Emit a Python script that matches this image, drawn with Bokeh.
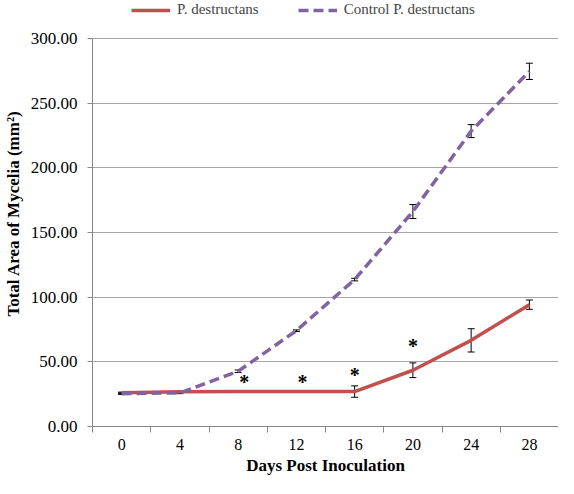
from bokeh.plotting import figure
from bokeh.models import (ColumnDataSource, Whisker, FixedTicker, NumeralTickFormatter,
                          Legend, LegendItem, Range1d, TeeHead)
from bokeh.core.properties import value
from bokeh.embed import file_html
from bokeh.resources import INLINE

days = [0, 4, 8, 12, 16, 20, 24, 28]
pd_area = [26.0, 26.8, 27.0, 27.0, 27.0, 43.5, 66.6, 94.2]
pd_err = [0.6, 0.5, 0.5, 0.5, 4.4, 5.7, 9.0, 3.6]
ctrl_area = [25.4, 26.0, 42.7, 74.1, 113.6, 166.2, 228.4, 274.6]
ctrl_err = [0.6, 0.6, 1.0, 0.6, 1.0, 5.4, 5.0, 6.3]
star_days = [8, 12, 16, 20]
star_y = [34.7, 34.7, 39.7, 62.3]
y_ticks = [0, 50, 100, 150, 200, 250, 300]
series_names = ["P. destructans", "Control P. destructans"]

FONT = "'Liberation Serif', 'Times New Roman', serif"
RED = "#C0504D"
PURPLE = "#8064A2"
AXIS = "#868686"

H = 478
BOTTOM = 52
FRAME_H = H - BOTTOM
AXIS_TOP_PX = 38          # pixel row where the top tick (300) sits
y_top = y_ticks[-1] * FRAME_H / (FRAME_H - AXIS_TOP_PX)

p = figure(width=558, height=H, output_backend="svg", toolbar_location=None,
           x_range=Range1d(-2, 30), y_range=Range1d(0, y_top))
p.min_border_left = 89
p.min_border_right = 0
p.min_border_top = 0
p.min_border_bottom = BOTTOM
p.outline_line_color = None
p.background_fill_color = "white"

# axes
bounds = [d - 2 for d in days] + [days[-1] + 2]
p.xaxis.ticker = FixedTicker(ticks=days, minor_ticks=bounds)
p.xaxis.major_tick_out = 0
p.xaxis.major_tick_in = 0
p.xaxis.minor_tick_out = 6
p.xaxis.minor_tick_in = 0
p.xaxis.minor_tick_line_color = AXIS
p.xaxis.axis_line_color = AXIS
p.xaxis.major_label_standoff = 6
p.xaxis.axis_label = "Days Post Inoculation"
p.xaxis.axis_label_standoff = 3

p.yaxis.ticker = FixedTicker(ticks=y_ticks, minor_ticks=[])
p.yaxis.bounds = (y_ticks[0], y_ticks[-1])
p.yaxis.formatter = NumeralTickFormatter(format="0.00")
p.yaxis.major_tick_out = 5
p.yaxis.major_tick_in = 0
p.yaxis.major_tick_line_color = AXIS
p.yaxis.axis_line_color = AXIS
p.yaxis.major_label_standoff = 10
p.yaxis.axis_label = "Total Area of Mycelia (mm\u00b2)"
p.yaxis.axis_label_standoff = 5

for ax, tick_size in ((p.xaxis, "16px"), (p.yaxis, "17px")):
    ax.major_label_text_font = FONT
    ax.major_label_text_font_size = tick_size
    ax.major_label_text_color = "black"
    ax.axis_label_text_font = FONT
    ax.axis_label_text_font_size = "17px"
    ax.axis_label_text_font_style = "bold"
    ax.axis_label_text_color = "black"
    ax.axis_line_width = 1

p.xgrid.visible = False
p.ygrid.ticker = FixedTicker(ticks=y_ticks)
p.ygrid.grid_line_color = "#A6A6A6"
p.ygrid.grid_line_width = 1

# lines
r_pd = p.line(days, pd_area, line_color=RED, line_width=3.5)
r_ctrl = p.line(days, ctrl_area, line_color=PURPLE, line_width=3.5, line_dash="10 5")

# error bars
for area, err in ((pd_area, pd_err), (ctrl_area, ctrl_err)):
    src = ColumnDataSource(dict(x=days,
                                upper=[a + e for a, e in zip(area, err)],
                                lower=[a - e for a, e in zip(area, err)]))
    w = Whisker(source=src, base="x", upper="upper", lower="lower",
                line_color="black", line_width=1,
                upper_head=TeeHead(size=7, line_color="black", line_width=1),
                lower_head=TeeHead(size=7, line_color="black", line_width=1))
    p.add_layout(w)

# significance stars
star_src = ColumnDataSource(dict(x=star_days, y=star_y, t=["*"] * len(star_days),
                                 xo=[6, 6, 0, 0]))
p.text(x="x", y="y", text="t", x_offset="xo", source=star_src,
       text_align="center", text_baseline="middle",
       text_font=value(FONT), text_font_size="20px", text_font_style="bold",
       text_color="black")

legend = Legend(items=[LegendItem(label=series_names[0], renderers=[r_pd]),
                       LegendItem(label=series_names[1], renderers=[r_ctrl])],
                orientation="horizontal", location=(39, FRAME_H - 18))
legend.label_text_font = FONT
legend.label_text_font_size = "15px"
legend.label_height = 16
legend.glyph_width = 39
legend.glyph_height = 16
legend.label_standoff = 7
legend.spacing = 39
legend.padding = 0
legend.margin = 0
legend.border_line_color = None
legend.background_fill_alpha = 0
p.add_layout(legend)

open("out.html", "w").write(file_html(p, INLINE))
